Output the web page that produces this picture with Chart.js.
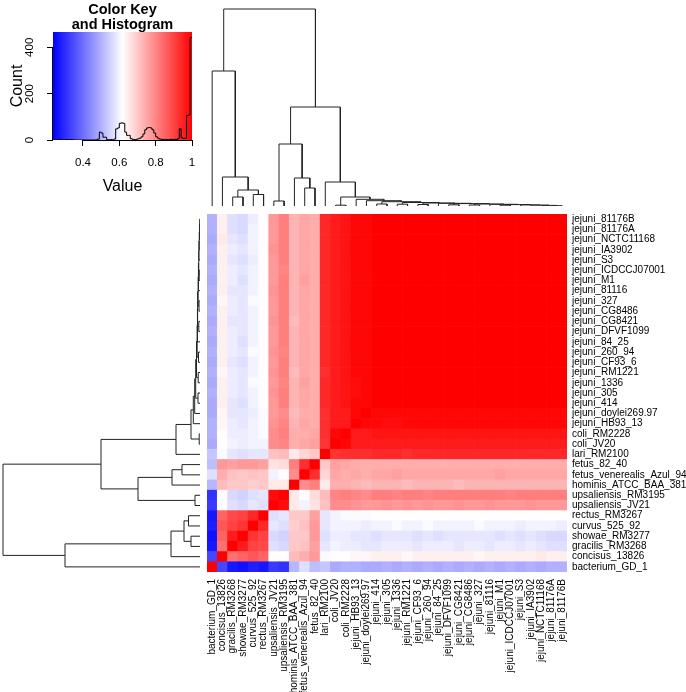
<!DOCTYPE html>
<html>
<head>
<meta charset="utf-8">
<title>Campylobacter similarity heatmap</title>
<script src="https://cdn.jsdelivr.net/npm/chart.js@4.4.1/dist/chart.umd.min.js"></script>
<style>
  html, body { margin: 0; padding: 0; background: #fff; }
  #wrap { position: relative; width: 686px; height: 692px; overflow: hidden; }
  #wrap canvas { position: absolute; }
</style>
</head>
<body>
<div id="wrap">
  <canvas id="heat" width="686" height="692" style="left:0px;top:0px"></canvas>
  <canvas id="rowTree" width="200" height="358" style="left:0px;top:214px"></canvas>
  <canvas id="colTree" width="360" height="200" style="left:207px;top:6px"></canvas>
  <canvas id="key" width="245" height="205" style="left:0px;top:0px"></canvas>
</div>
<script>
// strains in dendrogram order: columns left -> right, rows bottom -> top
var strains = ["bacterium_GD_1", "concisus_13826", "gracilis_RM3268", "showae_RM3277", "curvus_525_92",
  "rectus_RM3267", "upsaliensis_JV21", "upsaliensis_RM3195", "hominis_ATCC_BAA_381",
  "fetus_venerealis_Azul_94", "fetus_82_40", "lari_RM2100", "coli_JV20", "coli_RM2228",
  "jejuni_HB93_13", "jejuni_doylei269.97", "jejuni_414", "jejuni_305", "jejuni_1336", "jejuni_RM1221",
  "jejuni_CF93_6", "jejuni_260_94", "jejuni_84_25", "jejuni_DFVF1099", "jejuni_CG8421", "jejuni_CG8486",
  "jejuni_327", "jejuni_81116", "jejuni_M1", "jejuni_ICDCCJ07001", "jejuni_S3", "jejuni_IA3902",
  "jejuni_NCTC11168", "jejuni_81176A", "jejuni_81176B"];

// similarity (%) - lower triangle, row i has the values against strains 0..i
var similarity = [
  [100],
  [34, 100],
  [27, 83, 100],
  [26, 85, 96, 100],
  [28, 87, 90, 92, 100],
  [27, 85, 89, 90, 94, 100],
  [32, 62, 57, 56, 58, 57, 100],
  [31, 62, 56, 55, 57, 58, 98, 100],
  [51, 72, 70, 70, 69, 70, 65, 65, 100],
  [57, 74, 71, 70, 71, 70, 60, 62, 79, 100],
  [52, 77, 76, 77, 77, 76, 66, 67, 81, 93, 100],
  [53, 61, 58, 57, 58, 58, 71, 72, 65, 68, 70, 100],
  [49, 62, 60, 59, 60, 60, 79, 80, 74, 75, 76, 92, 100],
  [50, 62, 59, 59, 60, 61, 79, 81, 74, 74, 75, 93, 99, 100],
  [50, 63, 59, 58, 60, 61, 78, 80, 73, 75, 74, 93, 96, 96, 100],
  [49, 63, 58, 58, 59, 61, 77, 79, 72, 74, 74, 93, 96, 96, 99, 100],
  [49, 64, 58, 57, 60, 62, 77, 81, 73, 75, 74, 94, 96, 97, 99, 99, 100],
  [50, 64, 59, 58, 60, 62, 78, 81, 73, 75, 74, 94, 96, 97, 98, 99, 100, 100],
  [49, 64, 59, 58, 61, 62, 77, 80, 73, 76, 74, 94, 96, 97, 98, 99, 100, 100, 100],
  [50, 63, 59, 58, 60, 62, 78, 81, 72, 75, 74, 93, 96, 97, 99, 99, 100, 100, 100, 100],
  [49, 64, 58, 57, 60, 62, 77, 81, 73, 75, 74, 94, 96, 97, 99, 99, 100, 100, 100, 100, 100],
  [50, 64, 59, 58, 61, 62, 78, 80, 73, 75, 74, 94, 96, 97, 99, 99, 100, 100, 100, 100, 100, 100],
  [49, 64, 59, 57, 60, 62, 77, 81, 73, 75, 74, 94, 96, 97, 99, 99, 100, 100, 100, 100, 100, 100, 100],
  [50, 64, 59, 58, 60, 62, 77, 81, 73, 75, 74, 94, 96, 97, 99, 99, 100, 100, 100, 100, 100, 100, 100, 100],
  [49, 64, 58, 58, 60, 62, 78, 81, 72, 75, 74, 94, 96, 97, 99, 99, 100, 100, 100, 100, 100, 100, 100, 100, 100],
  [50, 64, 59, 58, 60, 62, 77, 81, 73, 75, 74, 94, 96, 97, 99, 99, 100, 100, 100, 100, 100, 100, 100, 100, 100, 100],
  [49, 63, 59, 58, 61, 62, 77, 81, 73, 75, 74, 94, 96, 97, 99, 99, 100, 100, 100, 100, 100, 100, 100, 100, 100, 100, 100],
  [50, 64, 58, 58, 60, 62, 78, 81, 73, 75, 74, 94, 96, 97, 99, 99, 100, 100, 100, 100, 100, 100, 100, 100, 100, 100, 100, 100],
  [49, 64, 59, 57, 60, 62, 77, 81, 73, 76, 74, 94, 96, 97, 99, 99, 100, 100, 100, 100, 100, 100, 100, 100, 100, 100, 100, 100, 100],
  [50, 64, 59, 58, 60, 62, 77, 80, 73, 75, 74, 94, 96, 97, 99, 99, 100, 100, 100, 100, 100, 100, 100, 100, 100, 100, 100, 100, 100, 100],
  [49, 64, 58, 57, 59, 62, 77, 81, 73, 75, 74, 94, 96, 97, 99, 99, 100, 100, 100, 100, 100, 100, 100, 100, 100, 100, 100, 100, 100, 100, 100],
  [50, 64, 59, 58, 60, 62, 78, 81, 73, 75, 74, 94, 96, 97, 99, 99, 100, 100, 100, 100, 100, 100, 100, 100, 100, 100, 100, 100, 100, 100, 100, 100],
  [49, 65, 58, 57, 60, 62, 77, 81, 73, 75, 74, 94, 96, 97, 99, 99, 100, 100, 100, 100, 100, 100, 100, 100, 100, 100, 100, 100, 100, 100, 100, 100, 100],
  [50, 64, 57, 56, 60, 62, 77, 81, 73, 75, 74, 94, 96, 97, 99, 99, 100, 100, 100, 100, 100, 100, 100, 100, 100, 100, 100, 100, 100, 100, 100, 100, 100, 100],
  [50, 64, 57, 56, 59, 62, 77, 81, 73, 75, 74, 94, 96, 97, 99, 99, 100, 100, 100, 100, 100, 100, 100, 100, 100, 100, 100, 100, 100, 100, 100, 100, 100, 100, 100]
];

// clustering tree: [left, right, height], leaves are strain indexes
var jejuniTail = [27, [[28, 29, 0.008], [30, [31, [32, [33, 34, 0.003], 0.006], 0.009], 0.011], 0.014], 0.017];
var jejuniTree = [14, [15, [[16, 17, 0.02], [[18, 19, 0.018], [[20, 21, 0.015], [22, [[23, 24, 0.012],
  [[25, 26, 0.01], jejuniTail, 0.02], 0.024], 0.027], 0.03], 0.035], 0.043], 0.053], 0.067];
var tree = [
  [0, [1, [[2, 3, 0.09], [4, 5, 0.115], 0.16], 0.29], 1.35],
  [[[6, 7, 0.05], [8, [9, 10, 0.18], 0.28], 0.62], [11, [[12, 13, 0.008], jejuniTree, 0.09], 0.24], 0.99],
  1.97
];

// colour key histogram (counts per 0.01 bin, from 0.24 up to 1.00)
var histStart = 0.24;
var histStep = 0.01;
var histCounts = [
  0, 0, 2, 3, 1, 0, 1, 2, 1, 2, 1, 0,
  0, 0, 0, 0, 0, 0, 0, 0, 0, 0, 0, 1,
  4, 34, 30, 12, 12, 2, 1, 2, 1, 4,
  48, 52, 72, 74, 72, 34, 20, 20, 6, 3,
  2, 3, 5, 8, 14, 26, 44, 52, 54, 52,
  44, 30, 14, 8, 4, 3, 2, 3, 2, 2,
  3, 2, 3, 2, 6, 48, 10, 6, 8, 106,
  108, 443
];
var keyMin = 0.235;
var keyMax = 1.0;
var keyXTicks = [0.4, 0.6, 0.8, 1];
var keyYTicks = [0, 200, 400];

var FONT = "'Liberation Sans', Arial, Helvetica, sans-serif";
Chart.defaults.font.family = FONT;
Chart.defaults.color = "#000";

// blue -> white -> red like gplots bluered
function colorFor(v) {
  var t = (v - keyMin) / (keyMax - keyMin);
  t = Math.max(0, Math.min(1, t));
  var r, g, b;
  if (t < 0.5) { r = g = Math.round(510 * t); b = 255; }
  else { r = 255; g = b = Math.round(510 * (1 - t)); }
  return "rgb(" + r + "," + g + "," + b + ")";
}

function sim(i, j) {
  return (i >= j ? similarity[i][j] : similarity[j][i]) / 100;
}

// ---------- heatmap ----------
var heatSets = strains.map(function (name, i) {
  return {
    data: strains.map(function () { return [i, i + 1]; }),
    backgroundColor: strains.map(function (n, c) { return colorFor(sim(i, c)); }),
    borderWidth: 0,
    grouped: false,
    categoryPercentage: 1,
    barPercentage: 1
  };
});

new Chart(document.getElementById("heat"), {
  type: "bar",
  data: { labels: strains, datasets: heatSets },
  options: {
    responsive: false,
    animation: false,
    layout: { padding: { left: 207, top: 214, right: 0, bottom: 0 } },
    plugins: { legend: { display: false }, tooltip: { enabled: false } },
    scales: {
      x: {
        ticks: { autoSkip: false, minRotation: 90, maxRotation: 90, padding: 7, font: { size: 10 } },
        grid: { display: false, drawTicks: false },
        border: { display: false },
        afterFit: function (s) { s.height = 120; }
      },
      y: {
        type: "linear",
        position: "right",
        min: 0,
        max: strains.length,
        afterBuildTicks: function (s) {
          s.ticks = strains.map(function (n, i) { return { value: i + 0.5 }; });
        },
        ticks: {
          autoSkip: false,
          padding: 5,
          font: { size: 10 },
          callback: function (v) { return strains[Math.floor(v)]; }
        },
        grid: { display: false, drawTicks: false },
        border: { display: false },
        afterFit: function (s) { s.width = 119; }
      }
    }
  }
});

// ---------- dendrograms ----------
function dendroPoints(node, flip, out) {
  if (typeof node === "number") return { pos: node + 0.5, h: 0 };
  var a = dendroPoints(node[0], flip, out);
  var b = dendroPoints(node[1], flip, out);
  var h = node[2];
  [[a.pos, a.h], [a.pos, h], [b.pos, h], [b.pos, b.h]].forEach(function (p) {
    out.push(flip ? { x: p[1], y: p[0] } : { x: p[0], y: p[1] });
  });
  out.push({ x: null, y: null });
  return { pos: (a.pos + b.pos) / 2, h: h };
}

function treeChart(id, flip) {
  var pts = [];
  dendroPoints(tree, flip, pts);
  var posAxis = { type: "linear", min: 0, max: strains.length, display: false };
  var hAxis = { type: "linear", min: 0, max: 2.0, display: false, reverse: flip };
  new Chart(document.getElementById(id), {
    type: "scatter",
    data: {
      datasets: [{
        data: pts,
        showLine: true,
        spanGaps: false,
        borderColor: "#222",
        borderWidth: 1,
        pointRadius: 0
      }]
    },
    options: {
      responsive: false,
      animation: false,
      plugins: { legend: { display: false }, tooltip: { enabled: false } },
      scales: flip ? { x: hAxis, y: posAxis } : { x: posAxis, y: hAxis }
    }
  });
}
treeChart("rowTree", true);
treeChart("colTree", false);

// ---------- colour key ----------
var histPts = histCounts.map(function (c, k) {
  return { x: histStart + k * histStep, y: c };
});
histPts.push({ x: histStart + histCounts.length * histStep, y: histCounts[histCounts.length - 1] });

var keyGradient = {
  id: "keyGradient",
  beforeDatasetsDraw: function (chart) {
    var ctx = chart.ctx, area = chart.chartArea, x = chart.scales.x;
    var grad = ctx.createLinearGradient(x.getPixelForValue(keyMin), 0, x.getPixelForValue(keyMax), 0);
    grad.addColorStop(0, "#0000ff");
    grad.addColorStop(0.5, "#ffffff");
    grad.addColorStop(1, "#ff0000");
    ctx.save();
    ctx.fillStyle = grad;
    ctx.fillRect(area.left, area.top, area.right - area.left, area.bottom - area.top);
    ctx.restore();
  }
};

var keyAxes = {
  id: "keyAxes",
  afterDraw: function (chart) {
    var ctx = chart.ctx, area = chart.chartArea, x = chart.scales.x, y = chart.scales.y;
    ctx.save();
    ctx.strokeStyle = "#000";
    ctx.lineWidth = 1;
    ctx.beginPath();
    ctx.moveTo(x.getPixelForValue(keyXTicks[0]), area.bottom + 0.5);
    ctx.lineTo(x.getPixelForValue(keyXTicks[keyXTicks.length - 1]), area.bottom + 0.5);
    ctx.moveTo(area.left - 0.5, y.getPixelForValue(keyYTicks[0]));
    ctx.lineTo(area.left - 0.5, y.getPixelForValue(keyYTicks[keyYTicks.length - 1]));
    ctx.stroke();
    // R style y labels, parallel to the axis
    ctx.fillStyle = "#000";
    ctx.font = "11.5px " + FONT;
    ctx.textAlign = "center";
    ctx.textBaseline = "middle";
    keyYTicks.forEach(function (v) {
      ctx.save();
      ctx.translate(30, y.getPixelForValue(v));
      ctx.rotate(-Math.PI / 2);
      ctx.fillText(String(v), 0, 0);
      ctx.restore();
    });
    ctx.restore();
  }
};

new Chart(document.getElementById("key"), {
  type: "scatter",
  data: {
    datasets: [{
      data: histPts,
      showLine: true,
      stepped: true,
      borderColor: "#000",
      borderWidth: 1,
      pointRadius: 0
    }]
  },
  options: {
    responsive: false,
    animation: false,
    layout: { padding: { left: 0, top: 0, right: 53, bottom: 0 } },
    plugins: {
      legend: { display: false },
      tooltip: { enabled: false },
      title: {
        display: true,
        fullSize: false,
        text: ["Color Key", "and Histogram"],
        color: "#000",
        font: { size: 14.5, weight: "bold", lineHeight: 1 },
        padding: { top: 3, bottom: 0 }
      }
    },
    scales: {
      x: {
        type: "linear",
        min: keyMin,
        max: keyMax,
        afterBuildTicks: function (s) { s.ticks = keyXTicks.map(function (v) { return { value: v }; }); },
        afterFit: function (s) { s.height = 65; },
        ticks: { padding: 10, font: { size: 11.5 }, callback: function (v) { return String(v); } },
        grid: { drawOnChartArea: false, drawTicks: true, tickLength: 6, color: "#000" },
        border: { display: false },
        title: { display: true, text: "Value", font: { size: 16 }, padding: { top: 0, bottom: 9 } }
      },
      y: {
        type: "linear",
        min: 0,
        max: 466,
        afterBuildTicks: function (s) { s.ticks = keyYTicks.map(function (v) { return { value: v }; }); },
        afterFit: function (s) { s.width = 53; },
        ticks: { display: false },
        grid: { drawOnChartArea: false, drawTicks: true, tickLength: 6, color: "#000" },
        border: { display: false },
        title: { display: true, text: "Count", font: { size: 16 }, padding: { top: 8, bottom: 0 } }
      }
    }
  },
  plugins: [keyGradient, keyAxes]
});
</script>
</body>
</html>
